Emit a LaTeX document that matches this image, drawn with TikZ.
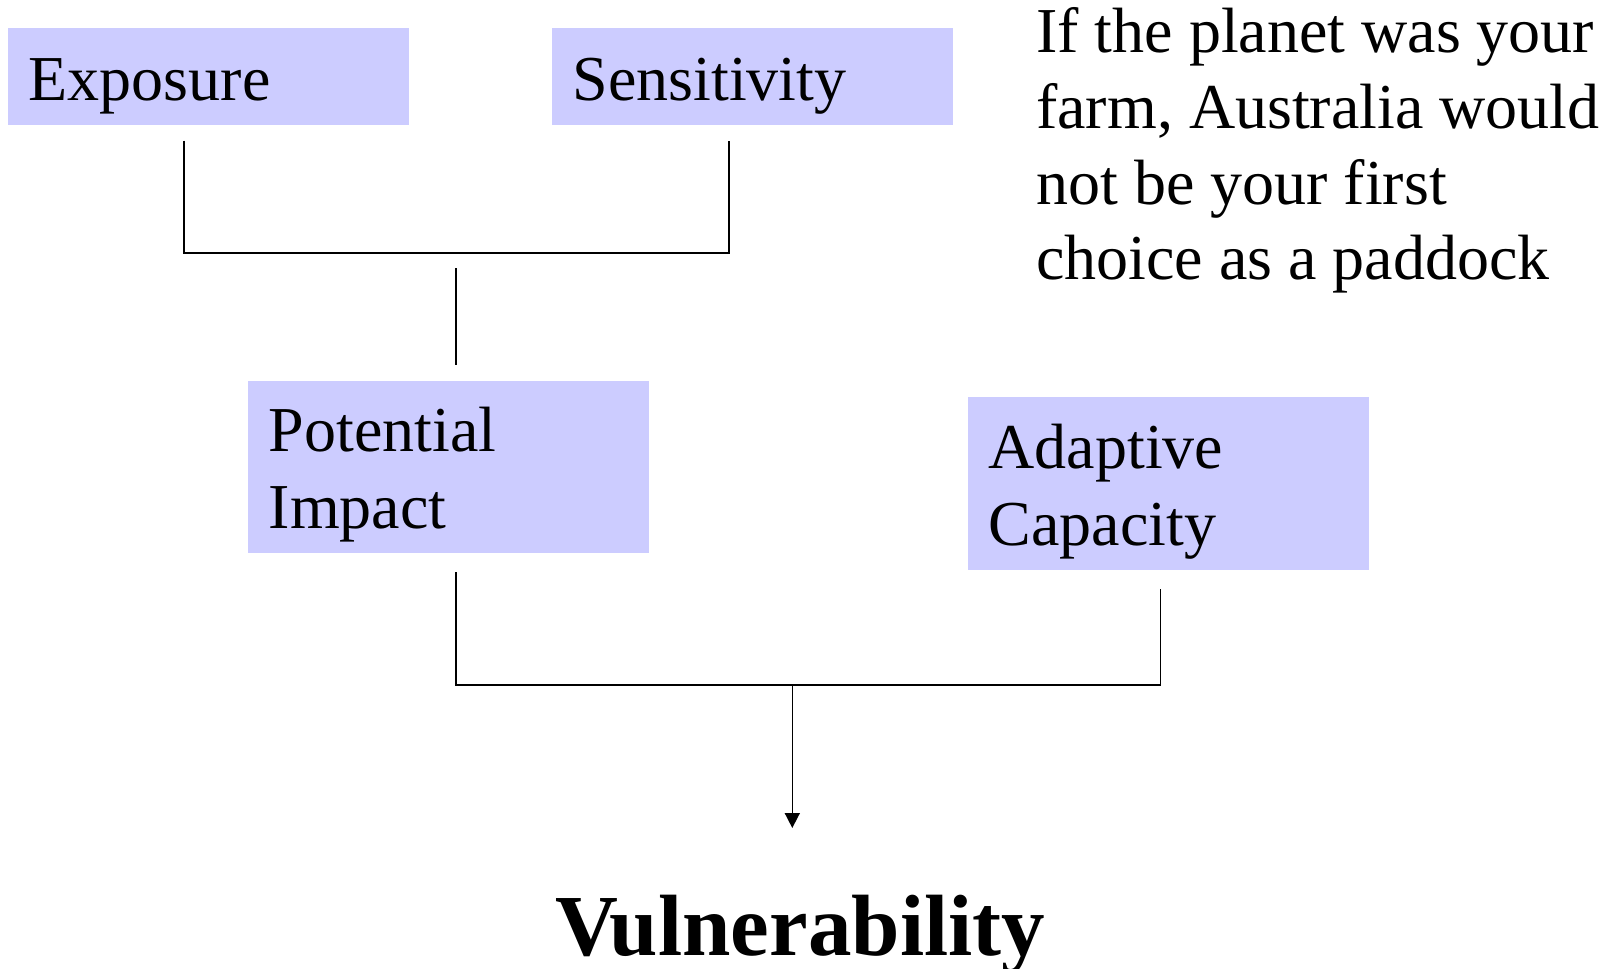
\documentclass[tikz,border=0pt]{standalone}
\usepackage{fontspec}
\setmainfont{Liberation Serif}
\usetikzlibrary{arrows.meta}
\definecolor{boxblue}{HTML}{CCCCFF}
\tikzset{
  box/.style={rectangle, fill=boxblue, draw=none, minimum width=401pt, inner sep=0pt},
  lbl/.style={anchor=base west, inner sep=0pt, font=\fontsize{64}{76.8}\selectfont},
  title/.style={anchor=base, inner sep=0pt, font=\fontsize{87}{100}\selectfont\bfseries},
  conn/.style={line width=1.6pt, black},
}
\begin{document}
\begin{tikzpicture}[x=1pt,y=-1pt]
\useasboundingbox (0,0) rectangle (1615,969);
% boxes
\node[box, minimum height=97pt] (exposure) at (208.5,76.5) {};
\node[box, minimum height=97pt] (sensitivity) at (752.5,76.5) {};
\node[box, minimum height=172pt] (potential) at (448.5,467) {};
\node[box, minimum height=173pt] (adaptive) at (1168.5,483.5) {};
% box texts
\node[lbl] (exposuretxt) at (28.5,100) {Exposure};
\node[lbl] (sensitivitytxt) at (572.5,100) {Sensitivity};
\node[lbl] (potentialtxt) at (268.5,451.7) {Potential};
\node[lbl] (impacttxt) at (268.5,528) {Impact};
\node[lbl] (adaptivetxt) at (988.5,468.3) {Adaptive};
\node[lbl] (capacitytxt) at (988.5,545) {Capacity};
% side text
\node[lbl] (note1) at (1036,52) {If the planet was your};
\node[lbl] (note2) at (1036,128) {farm, Australia would};
\node[lbl] (note3) at (1036,204) {not be your first};
\node[lbl] (note4) at (1036,279) {choice as a paddock};
% result
\node[title] (vulnerability) at (800,955) {Vulnerability};
% connector points
\coordinate (expoout) at (184,140.7);
\coordinate (sensout) at (728.7,140.7);
\coordinate (join1l) at (184,252.7);
\coordinate (join1r) at (728.7,252.7);
\coordinate (midtop) at (456,268);
\coordinate (midbot) at (456,364.6);
\coordinate (potout) at (456,572.3);
\coordinate (adaout) at (1160.3,589);
\coordinate (join2l) at (456,685);
\coordinate (join2r) at (1160.3,685);
\coordinate (join2m) at (792.3,685);
\coordinate (arrowtip) at (792.3,828);
% connectors
\draw[conn] (expoout) -- (join1l) -- (join1r) -- (sensout);
\draw[conn] (midtop) -- (midbot);
\draw[conn] (potout) -- (join2l) -- (join2r) -- (adaout);
\draw[conn, -{Triangle[width=15pt,length=15pt]}] (join2m) -- (arrowtip);
\end{tikzpicture}
\end{document}
